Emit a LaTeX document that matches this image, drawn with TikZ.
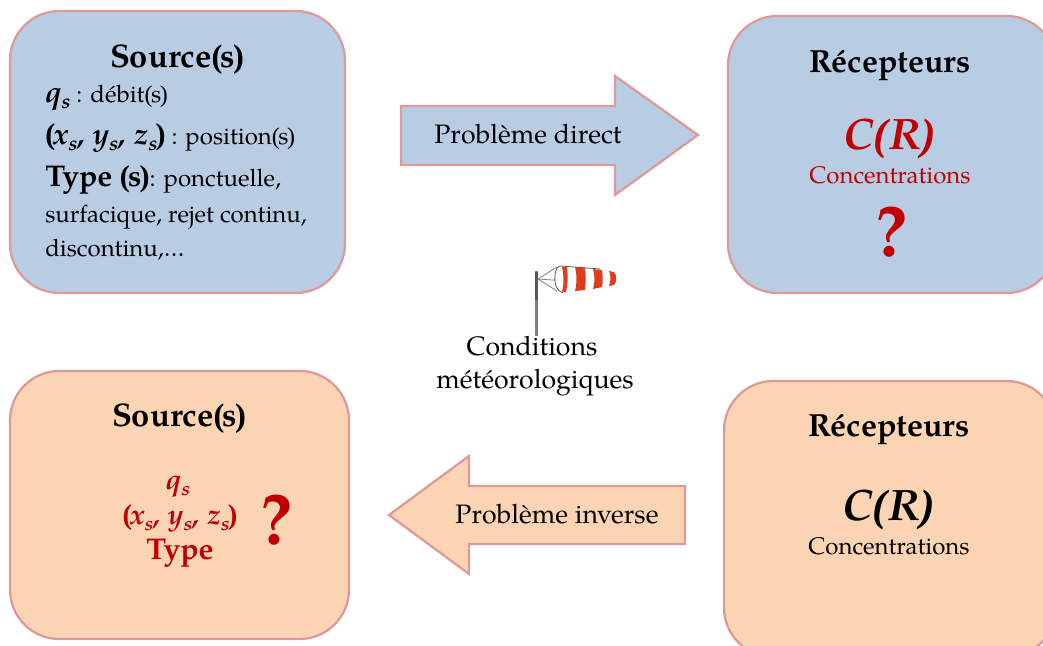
\documentclass[tikz,border=0pt]{standalone}
\usepackage{fontspec}
\setmainfont{TeX Gyre Pagella}
\newfontfamily\parfont{Liberation Serif}
\newcommand{\sbs}[1]{\raisebox{-.22em}{\fontsize{.68em}{1em}\selectfont #1}}
\newcommand{\lpar}{{\parfont(}\kern-.06em\relax}
\newcommand{\rpar}{\kern-.06em{\parfont)}}
\newcommand{\cofr}{C{\parfont(}\kern.03em R{\parfont)}}
\newcommand{\szA}{\fontsize{24pt}{26pt}\selectfont}
\newcommand{\szS}{\fontsize{24.5pt}{26pt}\selectfont}
\newcommand{\szB}{\fontsize{18pt}{20pt}\selectfont}
\newcommand{\szC}{\fontsize{22.5pt}{25pt}\selectfont}
\newcommand{\szD}{\fontsize{33pt}{36pt}\selectfont}
\newcommand{\szE}{\fontsize{21.5pt}{22pt}\selectfont}
\newcommand{\szF}{\fontsize{20pt}{22pt}\selectfont}
\newcommand{\szQ}{\fontsize{54pt}{56pt}\selectfont}
\definecolor{bluefill}{HTML}{B8CCE4}
\definecolor{peachfill}{HTML}{FBD4B4}
\definecolor{edgepink}{HTML}{DD9A99}
\definecolor{darkred}{HTML}{C00000}
\definecolor{sockred}{HTML}{DE3C1C}
\definecolor{polegray}{HTML}{7F7F78}
\tikzset{
  x=0.75pt,y=-0.75pt,
  boxshape/.style={draw=edgepink,line width=1.7pt,rounded corners=37pt,anchor=north west,inner sep=0pt,outer sep=0pt},
  bluebox/.style={boxshape,fill=bluefill},
  peachbox/.style={boxshape,fill=peachfill},
  arrowshape/.style={draw=edgepink,line width=1.7pt,line join=miter},
  ctext/.style={anchor=base,inner sep=0pt},
  ltext/.style={anchor=base west,inner sep=0pt},
  redtext/.style={text=darkred},
}
\begin{document}
\begin{tikzpicture}
\useasboundingbox (0,0) rectangle (1043,646);
\clip (0,0) rectangle (1043,646);
\node[bluebox,minimum width=251.25pt,minimum height=211.5pt] (boxTL) at (10,11) {};
\node[bluebox,minimum width=246pt,minimum height=207.75pt] (boxTR) at (728,16) {};
\node[peachbox,minimum width=254.25pt,minimum height=201pt] (boxBL) at (10,371) {};
\node[peachbox,minimum width=249pt,minimum height=207pt] (boxBR) at (724,381) {};
\draw[arrowshape,fill=bluefill] (401,106) -- (615,106) -- (615,76) -- (698,135) -- (615,195) -- (615,165) -- (401,165) -- cycle;
\draw[arrowshape,fill=peachfill] (685,486) -- (469,486) -- (469,456) -- (389,515) -- (469,574) -- (469,544) -- (685,544) -- cycle;
% top left
\node[ctext] (t1) at (177,67) {\szS\bfseries Source\lpar s\rpar};
\node[ltext] (t2) at (45,102) {\szC\bfseries\itshape q\sbs{s}\szB\mdseries\upshape\ : débit\lpar s\rpar};
\node[ltext] (t3) at (45,144) {\szC\bfseries \lpar\itshape x\sbs{s}, y\sbs{s}, z\sbs{s}\upshape \rpar\szB\mdseries\ : position\lpar s\rpar};
\node[ltext] (t4) at (45,186) {\szC\bfseries Type \lpar s\rpar\szB\mdseries : ponctuelle,};
\node[ltext] (t5) at (45,222) {\szB surfacique, rejet continu,};
\node[ltext] (t6) at (45,256) {\szB discontinu,…};
% arrows
\node[ctext] (t7) at (528,143) {\szF Problème direct};
\node[ctext] (t8) at (557,523) {\szF Problème inverse};
% top right
\node[ctext] (t9) at (890,72) {\szA\bfseries Récepteurs};
\node[ctext,redtext] (t10) at (890,149) {\szD\bfseries\itshape \cofr};
\node[ctext,redtext] (t11) at (890,183) {\szB Concentrations};
\node[ctext,redtext] (t12) at (891,256) {\szQ\bfseries ?};
% bottom left
\node[ctext] (t13) at (179,426) {\szS\bfseries Source\lpar s\rpar};
\node[ctext,redtext] (t14) at (178,489) {\szE\bfseries\itshape q\sbs{s}};
\node[ctext,redtext] (t15) at (180,524) {\szE\bfseries \lpar\itshape x\sbs{s}, y\sbs{s}, z\sbs{s}\upshape \rpar};
\node[ctext,redtext] (t16) at (180,559) {\szC\bfseries Type};
\node[ctext,redtext] (t17) at (276,544) {\szQ\bfseries ?};
% bottom right
\node[ctext] (t18) at (889,436) {\szA\bfseries Récepteurs};
\node[ctext] (t19) at (889,520) {\szD\bfseries\itshape \cofr};
\node[ctext] (t20) at (889,554) {\szB Concentrations};
% windsock
\fill[polegray] (534.5,271) rectangle (537.5,336);
\fill[polegray!70!black] (534.5,272) rectangle (537.5,300);
\draw[gray,line width=.6pt] (538,279) -- (557,267) (538,279) -- (557,291);
\draw[gray,line width=.6pt] (538,279) -- (566,281);
\fill[white] (555,275) .. controls (556,268) and (558,266) .. (561,266) -- (602,270) -- (614,272) .. controls (616,275) and (616,283) .. (613,285) -- (563,293) .. controls (557,291) and (554,285) .. (555,275) -- cycle;
\draw[gray!70!black,line width=.6pt] (555,275) .. controls (556,268) and (558,266) .. (561,266) -- (600,269) (563,293) .. controls (557,291) and (554,285) .. (555,275);
\fill[sockred] (562,267) -- (567,267) .. controls (568,275) and (568,284) .. (566,292) -- (562,292) .. controls (564,284) and (564,275) .. (562,267) -- cycle;
\fill[sockred] (575,267) -- (585,268) .. controls (586,275) and (586,282) .. (585,290) -- (575,291) .. controls (577,283) and (577,275) .. (575,267) -- cycle;
\fill[sockred] (593,269) -- (602,270) .. controls (603,276) and (603,282) .. (602,287) -- (593,289) .. controls (595,282) and (595,276) .. (593,269) -- cycle;
\fill[sockred] (609,271) -- (614,272) .. controls (617,275) and (617,282) .. (614,285) -- (609,286) .. controls (611,281) and (611,276) .. (609,271) -- cycle;
\node[ctext] (t21) at (532,355) {\szF Conditions};
\node[ctext] (t22) at (535,388) {\szF météorologiques};
\end{tikzpicture}
\end{document}
